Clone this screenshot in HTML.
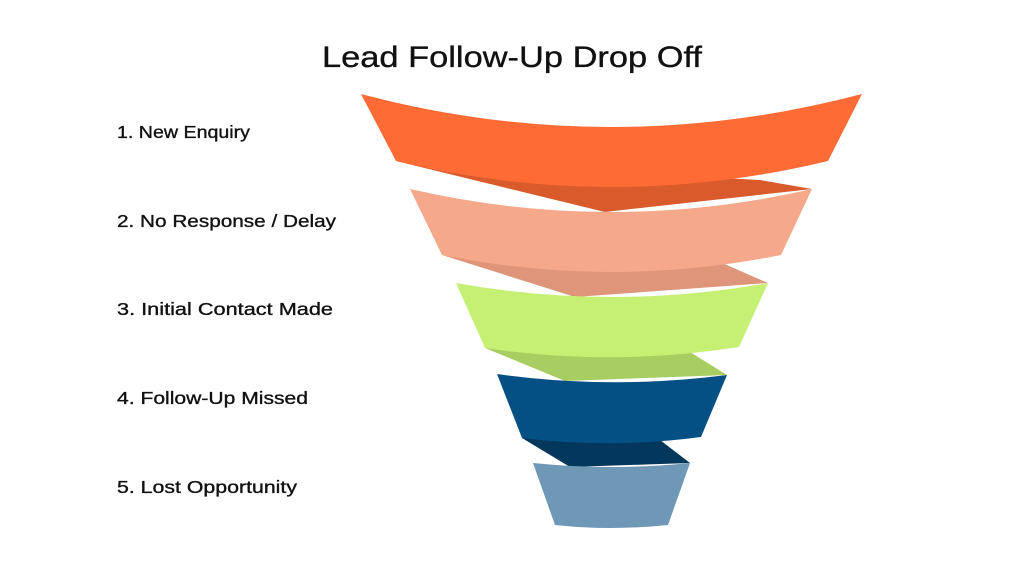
<!DOCTYPE html>
<html><head><meta charset="utf-8"><style>
html,body{margin:0;padding:0;background:#fff;width:1024px;height:576px;overflow:hidden}
svg{display:block}
text{font-family:"Liberation Sans",sans-serif;fill:#111;stroke:#111;stroke-width:0.35}
</style></head><body>
<svg width="1024" height="576" viewBox="0 0 1024 576">
<text x="322" y="67" font-size="30" textLength="380" lengthAdjust="spacingAndGlyphs">Lead Follow-Up Drop Off</text>
<g font-size="17.5">
<text x="117" y="138" textLength="133" lengthAdjust="spacingAndGlyphs">1. New Enquiry</text>
<text x="117" y="227" textLength="219" lengthAdjust="spacingAndGlyphs">2. No Response / Delay</text>
<text x="117" y="315" textLength="216" lengthAdjust="spacingAndGlyphs">3. Initial Contact Made</text>
<text x="117" y="404" textLength="191" lengthAdjust="spacingAndGlyphs">4. Follow-Up Missed</text>
<text x="117" y="493" textLength="180" lengthAdjust="spacingAndGlyphs">5. Lost Opportunity</text>
</g>
<path d="M522,438 L570,467 L690,463 L660,440 Z" fill="#03375C"/>
<path d="M533,463 Q611,471 690,463 L668,525 Q611,531 555,525 Z" fill="#6E98B6"/>
<path d="M485,348 L565,381 L727,375 L690,352 Z" fill="#A8CE62"/>
<path d="M497,374 Q612,390 727,375 L701,437 Q611,449 522,438 Z" fill="#045085"/>
<path d="M442,255 L575,297 L768,283 L720,262 Z" fill="#DE957A"/>
<path d="M456,283 Q612,311 768,283 L739,347 Q612,367 485,348 Z" fill="#C5F073"/>
<path d="M396,161 L605,212 L812,189 L760,180 Z" fill="#D95B2B"/>
<path d="M410,189 Q611,235 812,189 L781,255 Q611,289 442,255 Z" fill="#F6A88A"/>
<path d="M361,94 Q611,160 862,94 L828,161 Q612,213 396,161 Z" fill="#FF6B35"/>
</svg>
</body></html>
